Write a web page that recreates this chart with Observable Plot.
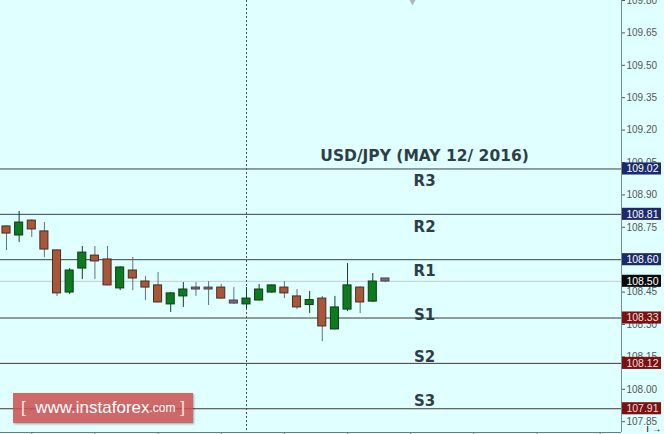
<!DOCTYPE html>
<html><head><meta charset="utf-8">
<script src="https://cdn.jsdelivr.net/npm/d3@7"></script>
<script src="https://cdn.jsdelivr.net/npm/@observablehq/plot@0.6"></script>
<style>
html,body{margin:0;padding:0;background:#e0ffff;}
#wrap{position:relative;width:664px;height:434px;overflow:hidden;}
#wm{position:absolute;left:13px;top:393px;width:180px;height:30px;background:rgba(204,80,80,0.86);box-shadow:1px 1px 2px rgba(0,0,0,0.35);color:#fff;font-family:"Liberation Sans",Arial,sans-serif;display:flex;align-items:center;justify-content:center;white-space:nowrap;}
</style></head><body>
<div id="wrap"><div id="chart"></div>
<div id="wm"><span style="font-size:17px;opacity:.85">[&nbsp;&nbsp;</span><span style="font-size:17px">www.instaforex</span><span style="font-size:12px">.com</span><span style="font-size:17px;opacity:.85">&nbsp;]</span></div>
</div>
<script>
// ---- data ----
const candleIndex = d3.range(1, 32);
const opens  = [108.754,108.712,108.781,108.731,108.643,108.448,108.559,108.619,108.601,108.467,108.550,108.499,108.481,108.393,108.430,108.471,108.471,108.471,108.411,108.393,108.411,108.448,108.471,108.430,108.390,108.420,108.277,108.369,108.471,108.406,108.513];
const highs  = [108.757,108.823,108.785,108.772,108.645,108.559,108.661,108.661,108.661,108.567,108.610,108.522,108.541,108.448,108.494,108.494,108.499,108.485,108.471,108.471,108.485,108.483,108.499,108.462,108.453,108.430,108.430,108.582,108.475,108.536,108.513];
const lows   = [108.643,108.680,108.703,108.610,108.430,108.439,108.508,108.508,108.479,108.457,108.457,108.411,108.400,108.356,108.379,108.430,108.388,108.418,108.393,108.374,108.409,108.444,108.420,108.369,108.351,108.221,108.275,108.360,108.351,108.402,108.494];
const closes = [108.721,108.772,108.740,108.647,108.444,108.550,108.633,108.592,108.481,108.564,108.513,108.471,108.402,108.444,108.462,108.462,108.462,108.420,108.397,108.420,108.462,108.481,108.444,108.379,108.413,108.291,108.379,108.481,108.402,108.499,108.499];

const levelNames  = ["R3","R2","R1","PRICE","S1","S2","S3"];
const levelValues = [109.02,108.81,108.60,108.50,108.33,108.12,107.91];
const levelLabelY = [108.962,108.749,108.545,null,108.342,108.147,107.944];

const yTicks = [107.85,108.00,108.15,108.30,108.45,108.60,108.75,108.90,109.05,109.20,109.35,109.50,109.65,109.80];
const xTicks = [3,8,13,18,23,28,33,38,43,48];
const separatorIndex = [20];
const title = "USD/JPY (MAY 12/ 2016)";
const titleY = 109.082;

// ---- build ----
const candles = candleIndex.map((i, k) => ({i, o: opens[k], h: highs[k], l: lows[k], c: closes[k]}));
const kindOf = d => Math.abs(d.c - d.o) < 0.02 ? "doji" : (d.c > d.o ? "up" : "down");
const bodyFill = {up: "#0c7a1e", down: "#a8583a", doji: "#7a6a80"};
const bodyStroke = {up: "#123a16", down: "#4a2c22", doji: "#4a4050"};
const levels = levelNames.map((n, k) => ({name: n, value: levelValues[k], labelY: levelLabelY[k]}));
const lineColor = d => d.name === "PRICE" ? "#c4cccc" : d.name[0] === "R" ? "#36424e" : "#4a3434";
const boxColor = d => d.name === "PRICE" ? "#0a0a0a" : d.name[0] === "R" ? "#1c2a6c" : "#7a1212";

const X0 = 0.525, X1 = 49.69, PW = 621;
const px2x = px => X0 + px / PW * (X1 - X0);
const HALF = 0.32;
const LABEL_X = 34.1;
const font = "'Liberation Sans', Arial, sans-serif";
const boldFont = "'DejaVu Sans', Verdana, sans-serif";

const chart = Plot.plot({
  width: 664, height: 434,
  marginLeft: 0, marginRight: 43, marginTop: 0, marginBottom: 2,
  style: {background: "#e0ffff", fontFamily: font},
  x: {domain: [X0, X1], axis: null},
  y: {domain: [107.80, 109.80], axis: null},
  marks: [
    Plot.ruleY(levels, {y: "value", stroke: lineColor, strokeWidth: 1}),
    Plot.ruleX(separatorIndex, {x: d => d, stroke: "#4a5058", strokeDasharray: "2,2"}),
    Plot.ruleX(candles, {x: "i", y1: "l", y2: "h", stroke: d => kindOf(d) === "up" ? "#1c3a20" : "#66707a"}),
    Plot.rect(candles, {x1: d => d.i - HALF, x2: d => d.i + HALF,
      y1: d => Math.min(d.o, d.c), y2: d => Math.max(d.o, d.c),
      fill: d => bodyFill[kindOf(d)], stroke: d => bodyStroke[kindOf(d)], strokeWidth: 1}),
    Plot.ruleX([X1], {stroke: "#7c8c8c"}),
    Plot.ruleY([107.80], {stroke: "#6c7c7c"}),
    Plot.axisX(xTicks, {anchor: "bottom", tickSize: 2, tickFormat: () => "", stroke: "#6c7c7c"}),
    Plot.axisY(yTicks, {anchor: "right", tickSize: 3, tickPadding: 2, tickFormat: d => d.toFixed(2), fontSize: 10, color: "#505858"}),
    Plot.rect(levels, {x1: px2x(622), x2: px2x(661), y1: d => d.value - 0.028, y2: d => d.value + 0.028, fill: boxColor}),
    Plot.text(levels, {x: px2x(642), y: "value", text: d => d.value.toFixed(2), fill: d => d.name[0] === "S" ? "#f4dede" : "#ffffff", fontSize: 10.5}),
    Plot.text(levels.filter(d => d.labelY != null), {x: LABEL_X, y: "labelY", text: "name", fill: "#2e3e48", fontSize: 15, fontWeight: "bold", fontFamily: boldFont}),
    Plot.text([title], {x: LABEL_X, y: titleY, text: d => d, fill: "#2e3e48", fontSize: 15.5, fontWeight: "bold", fontFamily: boldFont}),
    Plot.dot([109.80], {x: px2x(412), y: d => d, symbol: "diamond", r: 3, fill: "#b0b8b8"})
  ]
});
document.getElementById("chart").appendChild(chart);
</script>
</body></html>
